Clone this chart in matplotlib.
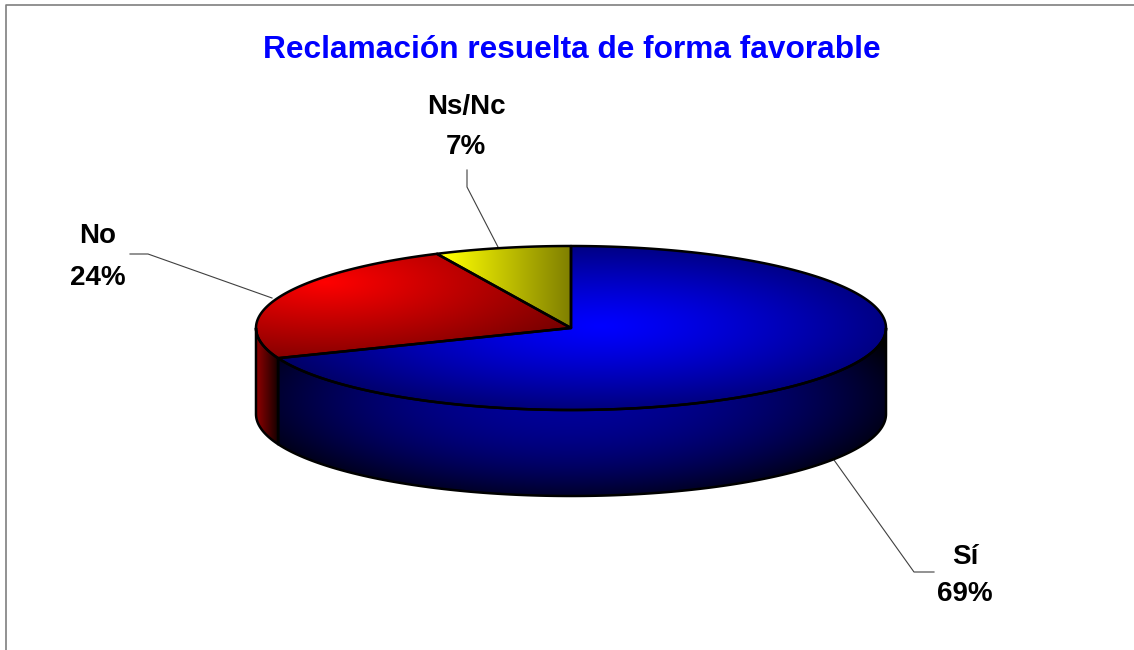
import numpy as np
import matplotlib
matplotlib.use("Agg")
import matplotlib.pyplot as plt
from matplotlib.path import Path
from matplotlib.patches import PathPatch

title = "Reclamación resuelta de forma favorable"
categories = ["Sí", "No", "Ns/Nc"]
values = [69, 24, 7]
labels = ["69%", "24%", "7%"]

W, H = 1134, 650
CX, CY, RX, RY, DEPTH = 571, 328, 315, 82, 86

plt.rcParams['font.family'] = ['Liberation Sans', 'DejaVu Sans']
fig = plt.figure(figsize=(W / 100, H / 100), dpi=100, facecolor='white')
ax = fig.add_axes([0, 0, 1, 1])
ax.set_xlim(0, W)
ax.set_ylim(H, 0)
ax.axis('off')

yy, xx = np.mgrid[0:H, 0:W] + 0.5


def rim(a0, a1, dy=0.0, n=200):
    t = np.radians(np.linspace(a0, a1, n))
    return np.column_stack([CX + RX * np.sin(t), CY - RY * np.cos(t) + dy])


def paint(verts, bright, color):
    bright = np.clip(bright, 0, 1)
    img = bright[..., None] * np.array(color, float)
    im = ax.imshow(img, extent=(0, W, H, 0), interpolation='bilinear', zorder=2, aspect='auto')
    path = Path(np.vstack([verts, verts[0]]), closed=True)
    patch = PathPatch(path, fc='none', ec='none', transform=ax.transData)
    ax.add_patch(patch)
    im.set_clip_path(patch)
    ax.add_patch(PathPatch(path, fc='none', ec='black', lw=1.8, zorder=3, joinstyle='round'))


fr = np.cumsum([0] + values) / sum(values) * 360
sec = {c: (fr[i], fr[i + 1]) for i, c in enumerate(categories)}
BLUE, RED, YEL = (0, 0, 1), (1, 0, 0), (1, 1, 0)

# side walls
a0, a1 = sec["Sí"]
top_edge = rim(90.0, a1)
wall = np.vstack([top_edge, top_edge[::-1] + [0, DEPTH]])
d = np.sqrt(((xx - 570) / 325) ** 2 + ((yy - 398) / 105) ** 2)
paint(wall, 0.60 - 0.5 * d ** 2, BLUE)

a0r, _ = sec["No"]
top_edge = rim(a0r, 270.0, n=40)
wall = np.vstack([top_edge, top_edge[::-1] + [0, DEPTH]])
paint(wall, 0.55 - 0.42 * (xx - 257) / 19, RED)

# top faces
centre = np.array([[CX, CY]])
d = np.sqrt(((xx - 600) / 330) ** 2 + ((yy - 326) / 92) ** 2)
paint(np.vstack([centre, rim(*sec["Sí"], n=500)]), 1.0 - 0.58 * d ** 1.25, BLUE)
d = np.sqrt(((xx - 325) / 290) ** 2 + ((yy - 282) / 90) ** 2)
paint(np.vstack([centre, rim(*sec["No"])]), 1.0 - 0.55 * d, RED)
paint(np.vstack([centre, rim(*sec["Ns/Nc"], n=60)]), 1.0 - 0.5 * (xx - 445) / 125, YEL)

# frame
ax.plot([6, 6, W], [H, 4.5, 4.5], color='#7f7f7f', lw=1.2, zorder=1)

# title
ax.text(572, 50, title, color='#0000ff', fontsize=22.8, fontweight='bold', ha='center', va='center', zorder=5)

# labels: (x, y of category line, y of percent line)
label_pos = {"Sí": (965, 557, 594), "No": (98, 236, 278), "Ns/Nc": (466, 107, 147)}
for c, l in zip(categories, labels):
    x, y1, y2 = label_pos[c]
    ax.text(x, y1, c, fontsize=20, fontweight='bold', ha='center', va='center', color='black', zorder=5)
    ax.text(x, y2, l, fontsize=20, fontweight='bold', ha='center', va='center', color='black', zorder=5)

# leader lines
leaders = [([834, 914, 934], [460, 572, 572]),
           ([272, 148, 130], [298, 254, 254]),
           ([498, 467, 467], [247, 187, 170])]
for lx, ly in leaders:
    ax.plot(lx, ly, color='#404040', lw=0.8, zorder=1)

fig.savefig("out.png", dpi=100, facecolor='white')
